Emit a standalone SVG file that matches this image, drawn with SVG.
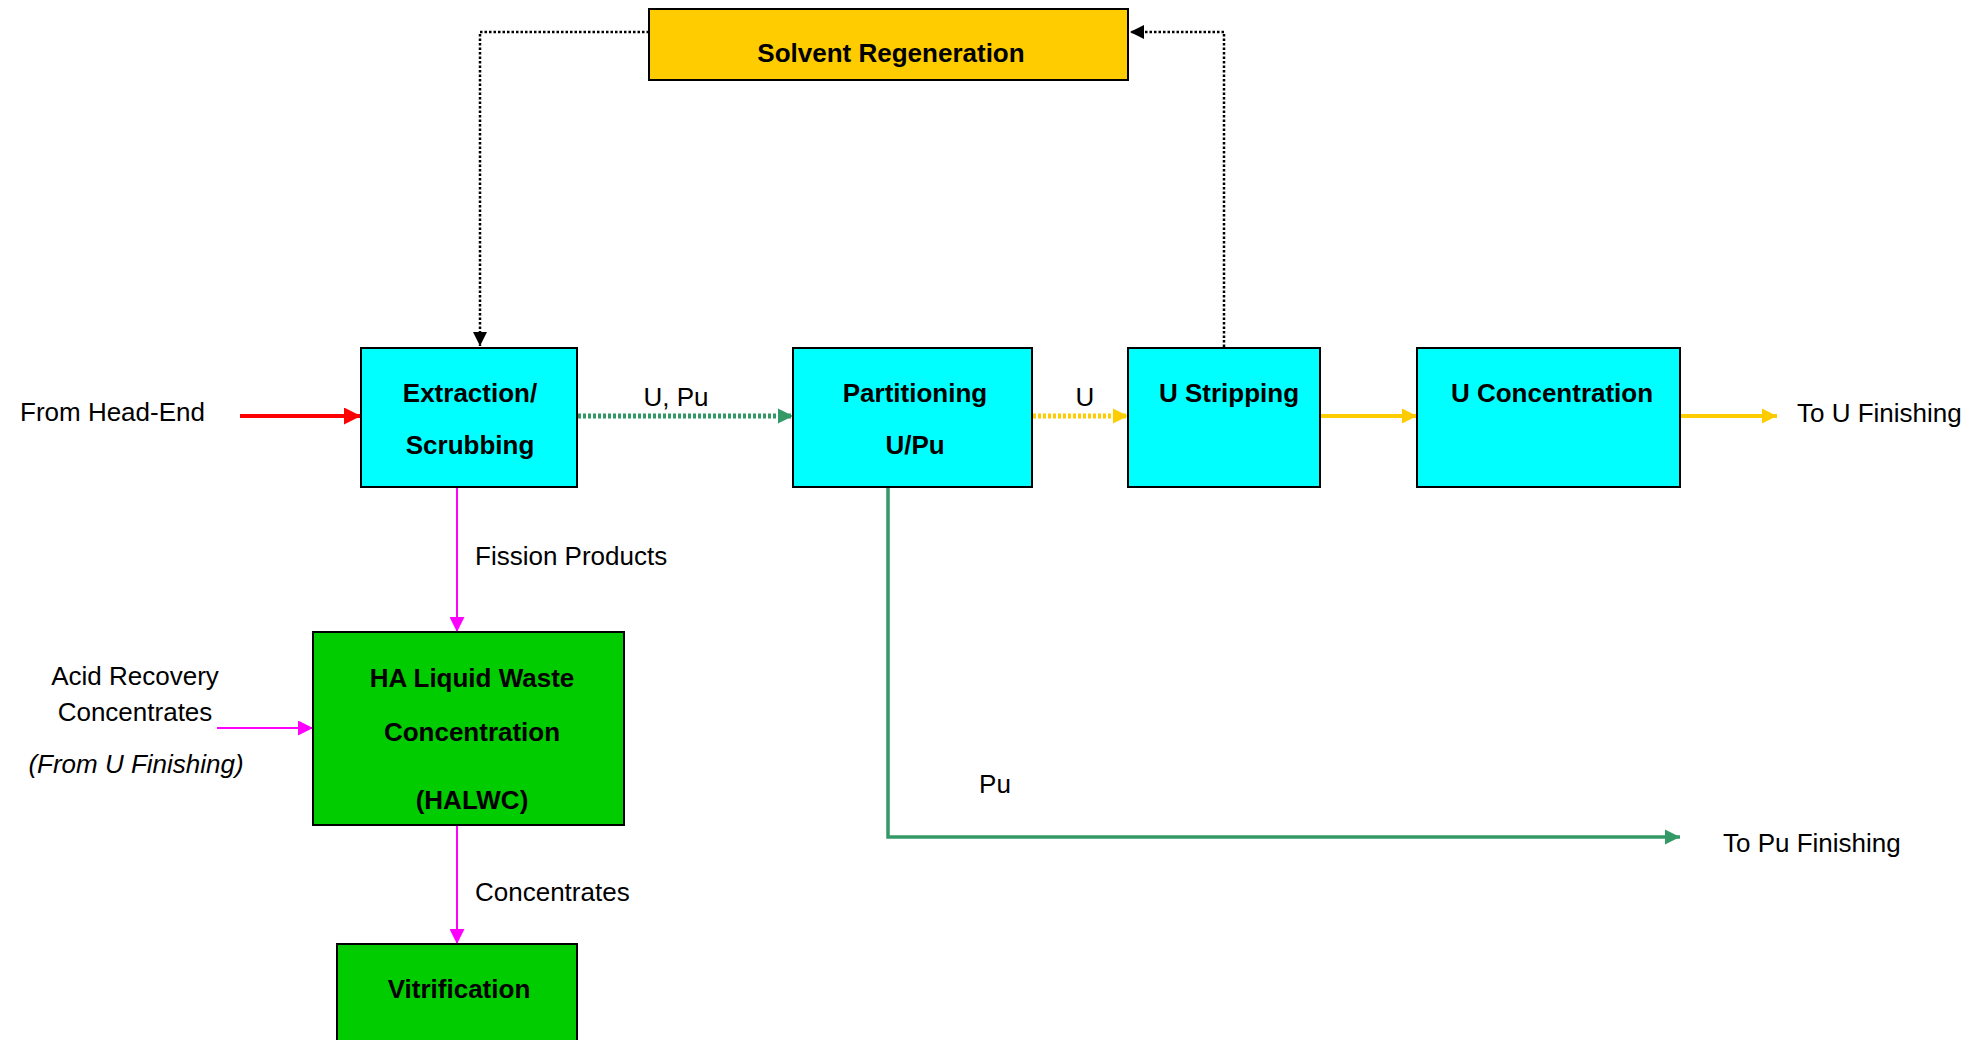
<svg xmlns="http://www.w3.org/2000/svg" width="1979" height="1040" viewBox="0 0 1979 1040">
<style>
.box{stroke:#000;stroke-width:2}
.cy{fill:#00FFFF}
.gr{fill:#00CC00}
.ye{fill:#FFCC00}
.lbl{font-family:"Liberation Sans",Arial,sans-serif;font-size:26px;font-weight:bold;fill:#000;text-anchor:middle}
.txt{font-family:"Liberation Sans",Arial,sans-serif;font-size:26px;fill:#000}
.c{text-anchor:middle}
.it{font-style:italic}
.con{fill:none}
</style>
<defs>
<marker id="aRed" viewBox="0 0 10 10" refX="10" refY="5" markerUnits="userSpaceOnUse" markerWidth="17" markerHeight="17" orient="auto"><path d="M0,0 L10,5 L0,10 z" fill="#FF0000"/></marker>
<marker id="aGreen" viewBox="0 0 10 10" refX="10" refY="5" markerUnits="userSpaceOnUse" markerWidth="15" markerHeight="16" orient="auto"><path d="M0,0 L10,5 L0,10 z" fill="#339966"/></marker>
<marker id="aYel" viewBox="0 0 10 10" refX="10" refY="5" markerUnits="userSpaceOnUse" markerWidth="15" markerHeight="16" orient="auto"><path d="M0,0 L10,5 L0,10 z" fill="#FFCC00"/></marker>
<marker id="aMag" viewBox="0 0 10 10" refX="10" refY="5" markerUnits="userSpaceOnUse" markerWidth="15" markerHeight="15" orient="auto"><path d="M0,0 L10,5 L0,10 z" fill="#FF00FF"/></marker>
<marker id="aBlk" viewBox="0 0 10 10" refX="10" refY="5" markerUnits="userSpaceOnUse" markerWidth="15" markerHeight="14" orient="auto"><path d="M0,0 L10,5 L0,10 z" fill="#000"/></marker>
</defs>

<g id="connectors">
<line class="con" x1="240" y1="416" x2="361" y2="416" stroke="#FF0000" stroke-width="4" marker-end="url(#aRed)"/>
<line class="con" x1="578" y1="416" x2="793" y2="416" stroke="#339966" stroke-width="5" stroke-dasharray="3 2" marker-end="url(#aGreen)"/>
<line class="con" x1="1033" y1="416" x2="1128" y2="416" stroke="#FFCC00" stroke-width="5" stroke-dasharray="3 2" marker-end="url(#aYel)"/>
<line class="con" x1="1321" y1="416" x2="1417" y2="416" stroke="#FFCC00" stroke-width="4" marker-end="url(#aYel)"/>
<line class="con" x1="1681" y1="416" x2="1777" y2="416" stroke="#FFCC00" stroke-width="4" marker-end="url(#aYel)"/>
<line class="con" x1="457" y1="488" x2="457" y2="632" stroke="#FF00FF" stroke-width="2" marker-end="url(#aMag)"/>
<line class="con" x1="457" y1="825" x2="457" y2="944" stroke="#FF00FF" stroke-width="2" marker-end="url(#aMag)"/>
<line class="con" x1="217" y1="728" x2="313" y2="728" stroke="#FF00FF" stroke-width="2" marker-end="url(#aMag)"/>
<path class="con" d="M888,488 V837 H1680" stroke="#339966" stroke-width="3.5" marker-end="url(#aGreen)"/>
<path class="con" d="M649,32 H480 V346" stroke="#000" stroke-width="2.5" stroke-dasharray="2.5 2" marker-end="url(#aBlk)"/>
<path class="con" d="M1224,347 V32 H1130" stroke="#000" stroke-width="2.5" stroke-dasharray="2.5 2" marker-end="url(#aBlk)"/>
</g>

<g id="solvent-regeneration">
<rect class="box ye" x="649" y="9" width="479" height="71"/>
<text class="lbl" x="891" y="62">Solvent Regeneration</text>
</g>
<g id="extraction-scrubbing">
<rect class="box cy" x="361" y="348" width="216" height="139"/>
<text class="lbl" x="470" y="402">Extraction/</text>
<text class="lbl" x="470" y="454">Scrubbing</text>
</g>
<g id="partitioning">
<rect class="box cy" x="793" y="348" width="239" height="139"/>
<text class="lbl" x="915" y="402">Partitioning</text>
<text class="lbl" x="915" y="454">U/Pu</text>
</g>
<g id="u-stripping">
<rect class="box cy" x="1128" y="348" width="192" height="139"/>
<text class="lbl" x="1229" y="402">U Stripping</text>
</g>
<g id="u-concentration">
<rect class="box cy" x="1417" y="348" width="263" height="139"/>
<text class="lbl" x="1552" y="402">U Concentration</text>
</g>
<g id="halwc">
<rect class="box gr" x="313" y="632" width="311" height="193"/>
<text class="lbl" x="472" y="687">HA Liquid Waste</text>
<text class="lbl" x="472" y="741">Concentration</text>
<text class="lbl" x="472" y="809">(HALWC)</text>
</g>
<g id="vitrification">
<rect class="box gr" x="337" y="944" width="240" height="100"/>
<text class="lbl" x="459" y="998">Vitrification</text>
</g>

<g id="labels">
<text class="txt" x="20" y="421">From Head-End</text>
<text class="txt c" x="676" y="406">U, Pu</text>
<text class="txt c" x="1085" y="406">U</text>
<text class="txt" x="1797" y="422">To U Finishing</text>
<text class="txt" x="475" y="565">Fission Products</text>
<text class="txt" x="475" y="901">Concentrates</text>
<text class="txt c" x="135" y="685">Acid Recovery</text>
<text class="txt c" x="135" y="721">Concentrates</text>
<text class="txt c it" x="136" y="773">(From U Finishing)</text>
<text class="txt c" x="995" y="793">Pu</text>
<text class="txt" x="1723" y="852">To Pu Finishing</text>
</g>
</svg>
